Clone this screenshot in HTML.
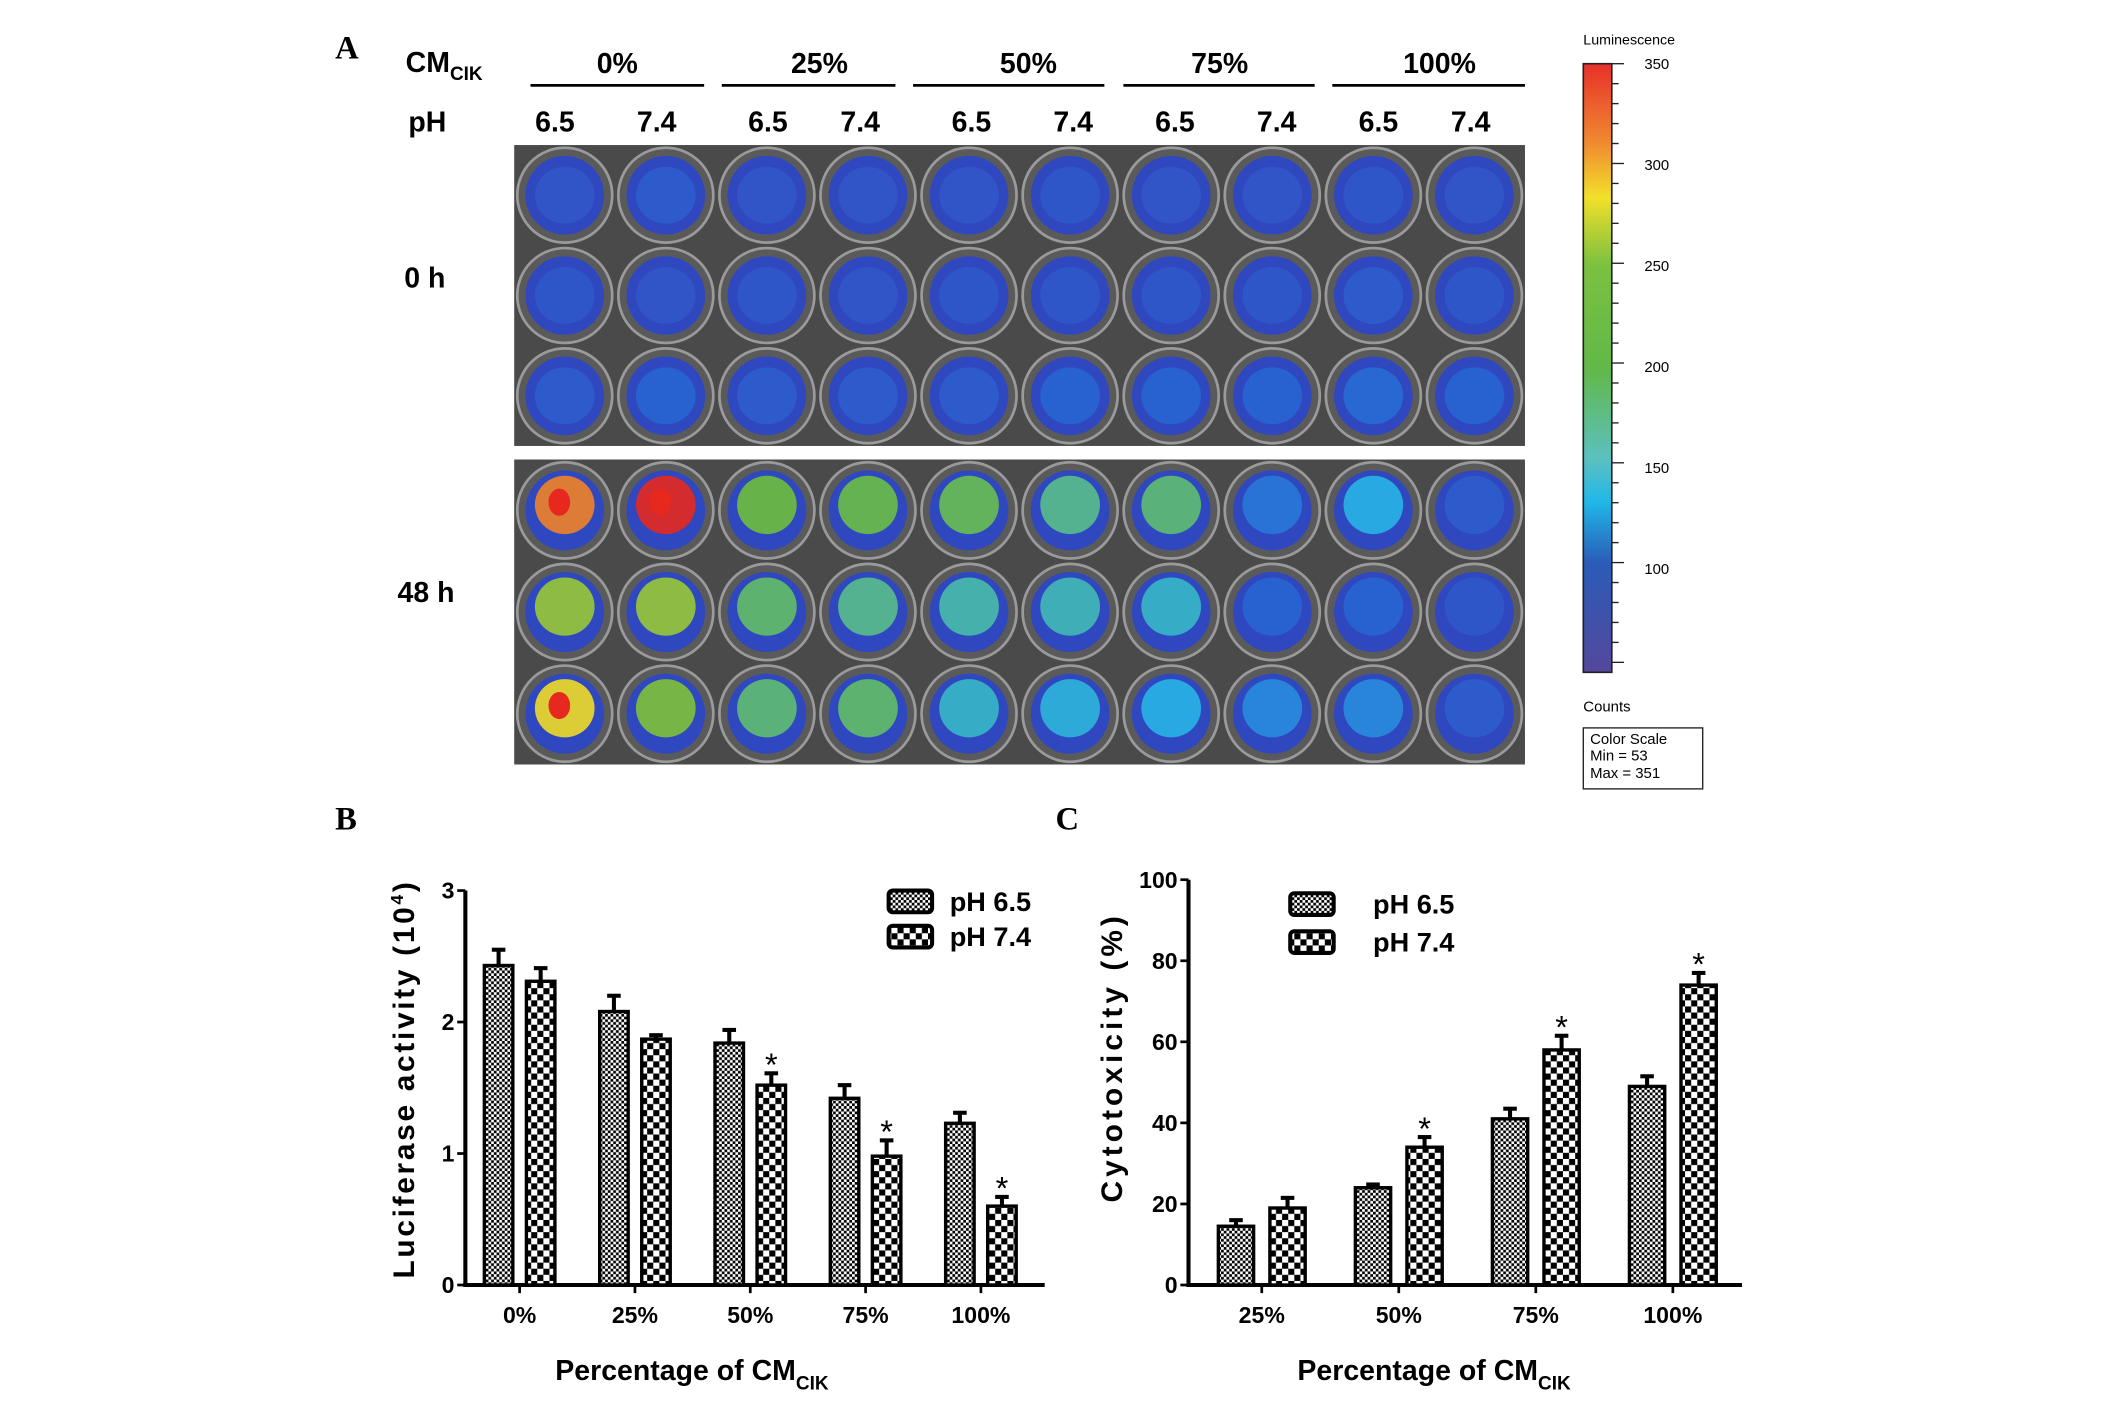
<!DOCTYPE html>
<html><head><meta charset="utf-8">
<style>
html,body{margin:0;padding:0;background:#fff;}
svg{display:block;}
text{font-family:"Liberation Sans",Arial,sans-serif;}
.b{font-weight:bold;}
.serif{font-family:"Liberation Serif",serif;font-weight:bold;}
</style></head>
<body>
<svg id="fig" width="2126" height="1407" viewBox="0 0 1567 1038" preserveAspectRatio="none" xmlns="http://www.w3.org/2000/svg">
<defs>
<pattern id="pat65" width="4" height="4" patternUnits="userSpaceOnUse"><rect width="4" height="4" fill="#000"/><rect x="0" y="0" width="2" height="2" fill="#fff"/><rect x="2" y="2" width="2" height="2" fill="#fff"/></pattern>
<pattern id="pat74" width="9" height="9" patternUnits="userSpaceOnUse"><rect width="9" height="9" fill="#000"/><rect x="0" y="0" width="4.5" height="4.5" fill="#fff"/><rect x="4.5" y="4.5" width="4.5" height="4.5" fill="#fff"/></pattern>
<linearGradient id="cbar" x1="0" y1="0" x2="0" y2="1">
<stop offset="0" stop-color="#e8302a"/><stop offset="0.13" stop-color="#f08a30"/><stop offset="0.22" stop-color="#f2e02a"/><stop offset="0.33" stop-color="#7cc140"/><stop offset="0.5" stop-color="#62b848"/><stop offset="0.65" stop-color="#5cc0c0"/><stop offset="0.72" stop-color="#20b8e8"/><stop offset="0.82" stop-color="#2a5cb8"/><stop offset="1" stop-color="#54489c"/>
</linearGradient>
</defs>

<text class="serif" x="247" y="43" font-size="24">A</text>
<text class="b" x="299" y="53" font-size="21">CM<tspan font-size="14" dy="6">CIK</tspan></text>
<text class="b" x="301" y="97" font-size="21">pH</text>
<g id="header"></g>
<text class="b" x="298" y="212" font-size="21">0 h</text>
<text class="b" x="293" y="444" font-size="21">48 h</text>
<g id="plates"></g>

<text x="1167" y="33" font-size="10.5">Luminescence</text>
<rect x="1167" y="47" width="21" height="449" fill="url(#cbar)" stroke="#222" stroke-width="1.2"/>
<g id="cbticks"></g>
<text x="1167" y="525" font-size="11">Counts</text>
<rect x="1167" y="537" width="88" height="45" fill="#fff" stroke="#222" stroke-width="1"/>
<text x="1172" y="549" font-size="11">Color Scale</text>
<text x="1172" y="561" font-size="11">Min = 53</text>
<text x="1172" y="574" font-size="11">Max = 351</text>

<text class="serif" x="247" y="612" font-size="24">B</text>
<text class="serif" x="778" y="612" font-size="24">C</text>

<g id="chartB"></g>
<g id="chartC"></g>
</svg>

<script>
// ---- Chart B data ----
const catsB = ["0%","25%","50%","75%","100%"];
const b65 = [2.43,2.08,1.84,1.42,1.23];
const b65err = [0.12,0.12,0.1,0.1,0.08];
const b74 = [2.31,1.87,1.52,0.98,0.6];
const b74err = [0.1,0.03,0.09,0.12,0.07];
const bStar = [false,false,true,true,true];
const bTicks = [0,1,2,3];
// ---- Chart C data ----
const catsC = ["25%","50%","75%","100%"];
const c65 = [14.5,24,41,49];
const c65err = [1.5,0.8,2.5,2.5];
const c74 = [19,34,58,74];
const c74err = [2.5,2.5,3.5,3];
const cStar = [false,true,true,true];
const cTicks = [0,20,40,60,80,100];
// ---- Plate header ----
const pctLabels = ["0%","25%","50%","75%","100%"];
const colorbarTicks = [350,300,250,200,150,100];
const wells48 = [
 [0.95,1.0,0.7,0.68,0.66,0.55,0.6,0.25,0.4,0.15],
 [0.75,0.75,0.62,0.55,0.5,0.48,0.45,0.2,0.2,0.12],
 [0.85,0.72,0.6,0.62,0.45,0.42,0.4,0.3,0.3,0.15]
];
const wells0 = [
 [0.1,0.15,0.1,0.1,0.1,0.12,0.1,0.1,0.12,0.1],
 [0.12,0.1,0.12,0.1,0.12,0.12,0.12,0.12,0.15,0.12],
 [0.15,0.2,0.15,0.15,0.15,0.2,0.2,0.2,0.22,0.2]
];

const NS="http://www.w3.org/2000/svg";
function mk(tag,attrs,parent,txt){const e=document.createElementNS(NS,tag);for(const k in attrs)e.setAttribute(k,attrs[k]);if(txt!==undefined)e.textContent=txt;parent.appendChild(e);return e;}

const hdr=document.getElementById('header');
const lineX=[[391,519],[532,660],[673,814],[828,969],[982,1124]];
const pctX=[455,604,758,899,1061];
const phX=[409,484,566,634,716,791,866,941,1016,1084];
pctLabels.forEach((p,i)=>{
 const t=mk('text',{x:pctX[i],y:54,'font-size':21,'text-anchor':'middle','class':'b'},hdr,p);
 
 
 const l=mk('line',{x1:lineX[i][0],x2:lineX[i][1],y1:63,y2:63,stroke:'#000','stroke-width':2},hdr);
 
 
});
phX.forEach((x,i)=>{
 const t=mk('text',{x:x,y:97,'font-size':21,'text-anchor':'middle','class':'b'},hdr,i%2?'7.4':'6.5');
 
 
});

function lumColor(v){
 const stops=[[0,[60,70,190]],[0.2,[40,100,210]],[0.4,[40,180,230]],[0.55,[90,190,140]],[0.7,[110,190,60]],[0.85,[240,220,40]],[0.95,[240,130,40]],[1,[230,40,30]]];
 for(let i=1;i<stops.length;i++){if(v<=stops[i][0]){const a=stops[i-1],b=stops[i];const f=(v-a[0])/(b[0]-a[0]);return 'rgb('+a[1].map((c,j)=>Math.round(c+(b[1][j]-c)*f)).join(',')+')';}}
 return 'rgb(230,40,30)';
}
const pl=document.getElementById('plates');
[[107,329,wells0],[339,564,wells48]].forEach(([y0,y1,w],pi)=>{
 const bg=mk('rect',{x:379,y:y0,width:745,height:y1-y0,fill:'#4a4a4a'},pl);
 
 
 const rh=(y1-y0)/3;
 for(let r=0;r<3;r++)for(let c=0;c<10;c++){
  const cx=379+37.25+74.5*c, cy=y0+rh*(r+0.5);
  const ring=mk('ellipse',{cx:cx,cy:cy,rx:35,ry:rh/2-2,fill:'#5a5a5a',stroke:'#9a9a9a','stroke-width':2},pl);
  
  
  mk('ellipse',{cx:cx,cy:cy,rx:29,ry:rh/2-8,fill:'#2f48c0'},pl);
  const v=w[r][c];
  mk('ellipse',{cx:cx,cy:cy-(pi?4:0),rx:22,ry:rh/2-16,fill:lumColor(v),opacity:0.9},pl);
  if(v>0.8) mk('ellipse',{cx:cx-4,cy:cy-6,rx:8,ry:10,fill:lumColor(1)},pl);
 }
});

const cbt=document.getElementById('cbticks');
for(let i=0;i<=30;i++){const y=47+i*(449/30.5);mk('line',{x1:1188,x2:i%5===0?1197:1193,y1:y,y2:y,stroke:'#222','stroke-width':1},cbt);}
colorbarTicks.forEach((v,i)=>{
 const y=47+(350-v)/ (350-50)*449*0.995;
 const t=mk('text',{x:1212,y:y+4,'font-size':11},cbt,v);
 
 
});

function drawChart(g,o){
 const y=v=>o.y0-(v-o.ymin)/(o.ymax-o.ymin)*(o.y0-o.ytop);
 const ya=mk('line',{x1:o.ax,x2:o.ax,y1:o.ytop,y2:o.y0+1.5,stroke:'#000','stroke-width':3},g);
 
 
 const xa=mk('line',{x1:o.ax-1.5,x2:o.xend,y1:o.y0,y2:o.y0,stroke:'#000','stroke-width':3},g);
 
 
 o.ticks.forEach(t=>{
  mk('line',{x1:o.ax-6,x2:o.ax,y1:y(t),y2:y(t),stroke:'#000','stroke-width':2},g);
  const lb=mk('text',{x:o.ax-8,y:y(t)+6,'font-size':17,'text-anchor':'end','class':'b'},g,t);
  
  
 });
 o.cats.forEach((c,i)=>{
  const gx=o.gx0+i*o.gstep;
  mk('line',{x1:gx,x2:gx,y1:o.y0,y2:o.y0+6,stroke:'#000','stroke-width':2},g);
  const lb=mk('text',{x:gx,y:o.y0+28,'font-size':17,'text-anchor':'middle','class':'b'},g,c);
  
  
  [[o.s1,o.e1,'url(#pat65)',-o.off,false],[o.s2,o.e2,'url(#pat74)',o.off,o.star[i]]].forEach(([s,e,f,dx,st],k)=>{
   const bx=gx+dx-o.bw/2, top=y(s[i]), etop=y(s[i]+e[i]);
   const el=mk('line',{x1:gx+dx,x2:gx+dx,y1:etop,y2:top,stroke:'#000','stroke-width':3},g);
   
   
   mk('line',{x1:gx+dx-5,x2:gx+dx+5,y1:etop,y2:etop,stroke:'#000','stroke-width':3},g);
   const r=mk('rect',{x:bx,y:top,width:o.bw,height:o.y0-top,fill:f,stroke:'#000','stroke-width':2.5},g);
   
   
   if(st){const sx=mk('text',{x:gx+dx,y:etop+2,'font-size':24,'text-anchor':'middle'},g,'*');
    
    }
  });
 });
 [['pH 6.5','url(#pat65)'],['pH 7.4','url(#pat74)']].forEach(([l,f],k)=>{
  const ly=o.ly+k*o.lstep;
  const sw=mk('rect',{x:o.lx,y:ly-7,width:32,height:16,rx:3,fill:f,stroke:'#000','stroke-width':3},g);
  
  
  const t=mk('text',{x:o.ltx,y:ly+8,'font-size':20,'class':'b'},g,l);
  
  
 });
 const yt=mk('text',{transform:`translate(${o.ytx},${o.yty}) rotate(-90)`,'font-size':22,'text-anchor':'middle','class':'b','letter-spacing':o.ls},g,o.ytitle);
 
 
 if(o.sup){const ts=mk('tspan',{dy:-8,'font-size':13},yt,'4');mk('tspan',{dy:8},yt,')');}
 const xt=mk('text',{x:o.xtx,y:1018,'font-size':21,'text-anchor':'middle','class':'b'},g,'Percentage of CM');
 
 
 mk('tspan',{dy:7,'font-size':14},xt,'CIK');
}
drawChart(document.getElementById('chartB'),{cats:catsB,s1:b65,e1:b65err,s2:b74,e2:b74err,star:bStar,ticks:bTicks,ymin:0,ymax:3,y0:948,ytop:657,ax:343,xend:770,gx0:383,gstep:85,off:15.5,bw:21,lx:655,ly:664,lstep:26,ltx:700,ytx:305,yty:796,ytitle:'Luciferase activity (10',sup:true,xtx:510,ls:2});
drawChart(document.getElementById('chartC'),{cats:catsC,s1:c65,e1:c65err,s2:c74,e2:c74err,star:cStar,ticks:cTicks,ymin:0,ymax:100,y0:948,ytop:649,ax:876,xend:1284,gx0:930,gstep:101,off:19,bw:26,lx:951,ly:666,lstep:28,ltx:1012,ytx:827,yty:780,ytitle:'Cytotoxicity (%)',sup:false,xtx:1057,ls:3});
</script>
</body></html>
